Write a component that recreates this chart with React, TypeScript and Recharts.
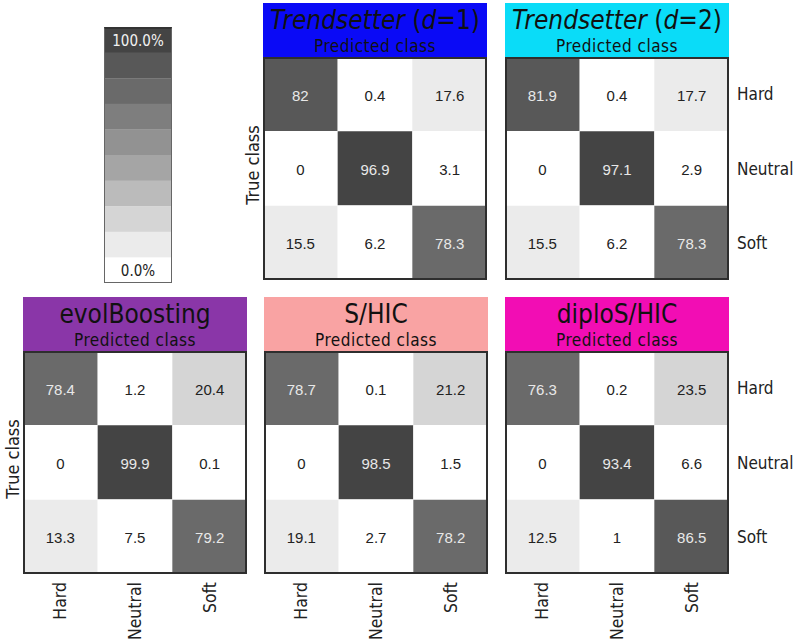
import { BarChart, Bar, XAxis, YAxis, Cell, LabelList } from 'recharts'

const classes = ['Hard', 'Neutral', 'Soft']

// rows = true class, columns = predicted class (percent)
const trendsetterD1 = [[82, 0.4, 17.6], [0, 96.9, 3.1], [15.5, 6.2, 78.3]]
const trendsetterD2 = [[81.9, 0.4, 17.7], [0, 97.1, 2.9], [15.5, 6.2, 78.3]]
const evolBoosting = [[78.4, 1.2, 20.4], [0, 99.9, 0.1], [13.3, 7.5, 79.2]]
const sHic = [[78.7, 0.1, 21.2], [0, 98.5, 1.5], [19.1, 2.7, 78.2]]
const diploSHic = [[76.3, 0.2, 23.5], [0, 93.4, 6.6], [12.5, 1, 86.5]]

const colorbarLevels = [100, 90, 80, 70, 60, 50, 40, 30, 20, 10]
const colorbarTicks = ['100.0%', '0.0%']

const greys = ['#ffffff', '#ebebeb', '#d5d5d5', '#bbbbbb', '#a5a5a5', '#929292', '#7e7e7e', '#6a6a6a', '#585858', '#444444']
const shade = (v: number) => greys[Math.min(9, Math.floor(v / 10))]

const LABEL_FONT = '"DejaVu Sans Condensed", "DejaVu Sans", sans-serif'
const NUM_FONT = '"Liberation Sans", Arial, sans-serif'

const SIZE = 224
const HEADER = 54

const cellSpan = () => 1

function ColTick({ x, y, payload }: any) {
  const name = classes[Math.floor(payload.value)]
  return (
    <text
      x={x}
      y={y}
      transform={`rotate(-90 ${x} ${y})`}
      textAnchor="end"
      dominantBaseline="central"
      fontFamily={LABEL_FONT}
      fontSize={17.5}
      fill="#222"
    >
      {name}
    </text>
  )
}

interface PanelProps {
  title: React.ReactNode
  color: string
  matrix: number[][]
  left: number
  top: number
  rowLabels?: boolean
  colLabels?: boolean
  trueClass?: boolean
}

function Panel({ title, color, matrix, left, top, rowLabels, colLabels, trueClass }: PanelProps) {
  const rows = classes.map((c, i) => ({ row: c, v0: matrix[i][0], v1: matrix[i][1], v2: matrix[i][2] }))
  const w = SIZE + (rowLabels ? 72 : 0)
  const h = SIZE - 1 + (colLabels ? 70 : 0)
  return (
    <>
      <div style={{ position: 'absolute', left, top: top - HEADER, width: SIZE, height: HEADER, background: color, fontFamily: LABEL_FONT, color: '#111', textAlign: 'center' }}>
        <div style={{ position: 'absolute', left: 0, right: 0, top: 2, fontSize: 26, lineHeight: '30px', whiteSpace: 'nowrap' }}>{title}</div>
        <div style={{ position: 'absolute', left: 0, right: 0, top: 33, fontSize: 17, lineHeight: '20px', letterSpacing: 0.5 }}>Predicted class</div>
      </div>
      {trueClass && (
        <div style={{ position: 'absolute', left: left - 11, top: top + 108, transform: 'translate(-50%, -50%) rotate(-90deg)', fontFamily: LABEL_FONT, fontSize: 18, color: '#222', whiteSpace: 'nowrap' }}>
          True class
        </div>
      )}
      <div style={{ position: 'absolute', left, top }}>
        <BarChart
          layout="vertical"
          width={w}
          height={h}
          data={rows}
          margin={{ top: 0, right: 0, bottom: 0, left: 0 }}
          barCategoryGap={0}
          barGap={0}
        >
          <XAxis
            type="number"
            domain={[0, 3]}
            ticks={[0.5, 1.5, 2.5]}
            hide={!colLabels}
            height={70}
            axisLine={false}
            tickLine={false}
            tick={<ColTick />}
          />
          <YAxis
            type="category"
            dataKey="row"
            orientation="right"
            hide={!rowLabels}
            width={72}
            axisLine={false}
            tickLine={false}
            tick={{ fontSize: 17, fill: '#222', fontFamily: LABEL_FONT, textAnchor: 'start' }}
          />
          {[0, 1, 2].map(j => (
            <Bar key={j} dataKey={cellSpan} stackId="m" isAnimationActive={false}>
              {rows.map((r, i) => (
                <Cell key={i} fill={shade(matrix[i][j])} />
              ))}
              <LabelList
                dataKey={`v${j}`}
                content={(p: any) => (
                  <text
                    x={p.x + p.width / 2}
                    y={p.y + p.height / 2 + 1}
                    textAnchor="middle"
                    dominantBaseline="central"
                    fontFamily={NUM_FONT}
                    fontSize={15}
                    fill={p.value >= 50 ? '#e8e8e8' : '#222222'}
                  >
                    {String(p.value)}
                  </text>
                )}
              />
            </Bar>
          ))}
        </BarChart>
      </div>
      <div style={{ position: 'absolute', left, top, width: SIZE, height: SIZE - 1, border: '2px solid #2e2e2e', boxSizing: 'border-box', pointerEvents: 'none' }} />
    </>
  )
}

function Colorbar() {
  const data = colorbarLevels.map(l => ({ level: l }))
  return (
    <>
      <div style={{ position: 'absolute', left: 104, top: 27 }}>
        <BarChart
          layout="vertical"
          width={68}
          height={256}
          data={data}
          margin={{ top: 0, right: 0, bottom: 0, left: 0 }}
          barCategoryGap={0}
        >
          <XAxis type="number" domain={[0, 1]} hide />
          <YAxis type="category" dataKey="level" hide />
          <Bar dataKey={cellSpan} isAnimationActive={false}>
            {data.map((d, i) => (
              <Cell key={i} fill={shade(d.level - 5)} />
            ))}
            <LabelList
              content={(p: any) => {
                const idx = p.index
                if (idx !== 0 && idx !== data.length - 1) return null
                return (
                  <text
                    x={p.x + p.width / 2}
                    y={p.y + p.height / 2 + 1}
                    textAnchor="middle"
                    dominantBaseline="central"
                    fontFamily={LABEL_FONT}
                    fontSize={15}
                    fill={idx === 0 ? '#f2f2f2' : '#222'}
                  >
                    {idx === 0 ? colorbarTicks[0] : colorbarTicks[1]}
                  </text>
                )
              }}
            />
          </Bar>
        </BarChart>
      </div>
      <div style={{ position: 'absolute', left: 104, top: 27, width: 68, height: 256, borderLeft: '1.5px solid #666', borderRight: '1.5px solid #666', borderBottom: '1.5px solid #666', borderTop: '2px solid #333', boxSizing: 'border-box', pointerEvents: 'none' }} />
    </>
  )
}

export default function App() {
  return (
    <div style={{ position: 'absolute', left: 0, top: 0, width: 800, height: 642, background: '#fff', overflow: 'hidden' }}>
      <Colorbar />
      <Panel
        title={<><i>Trendsetter</i> (<i>d</i>=1)</>}
        color="#0a0af6"
        matrix={trendsetterD1}
        left={263}
        top={57}
        trueClass
      />
      <Panel
        title={<><i>Trendsetter</i> (<i>d</i>=2)</>}
        color="#0adcf8"
        matrix={trendsetterD2}
        left={505}
        top={57}
        rowLabels
      />
      <Panel title="evolBoosting" color="#8a36a8" matrix={evolBoosting} left={23} top={351} colLabels trueClass />
      <Panel title="S/HIC" color="#f9a3a3" matrix={sHic} left={264} top={351} colLabels />
      <Panel title="diploS/HIC" color="#f20db4" matrix={diploSHic} left={505} top={351} rowLabels colLabels />
    </div>
  )
}
